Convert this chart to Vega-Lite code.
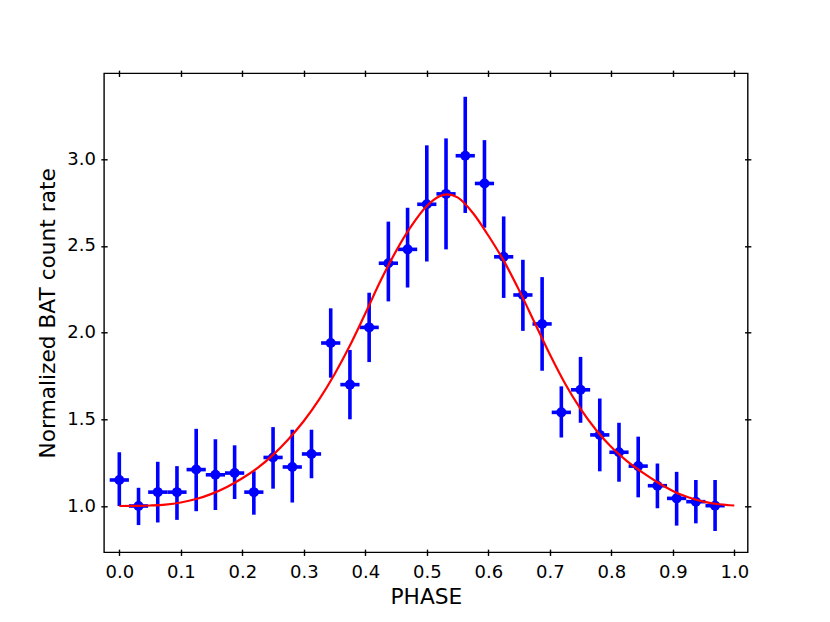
{
  "$schema": "https://vega.github.io/schema/vega-lite/v6.json",
  "width": 643.7,
  "height": 479,
  "autosize": {"type": "none"},
  "padding": {"left": 104, "top": 73.3, "right": 82.3, "bottom": 69.7},
  "background": "white",
  "config": {
    "font": "DejaVu Sans",
    "view": {"stroke": "black", "strokeWidth": 1.4},
    "axis": {
      "grid": false,
      "domain": false,
      "tickColor": "black",
      "tickWidth": 1.4,
      "tickSize": 6.3,
      "offset": -3.15,
      "labelColor": "black",
      "labelFont": "DejaVu Sans",
      "labelFontSize": 18,
      "titleFont": "DejaVu Sans",
      "titleFontSize": 21.7,
      "titleFontWeight": "normal",
      "titleColor": "black"
    }
  },
  "datasets": {
    "pts": [
      {"phase": 0, "rate": 1.15, "lo": 1.0, "hi": 1.31, "xlo": -0.015625, "xhi": 0.015625},
      {"phase": 0.03125, "rate": 1.0, "lo": 0.89, "hi": 1.105, "xlo": 0.015625, "xhi": 0.046875},
      {"phase": 0.0625, "rate": 1.08, "lo": 0.905, "hi": 1.255, "xlo": 0.046875, "xhi": 0.078125},
      {"phase": 0.09375, "rate": 1.08, "lo": 0.92, "hi": 1.23, "xlo": 0.078125, "xhi": 0.109375},
      {"phase": 0.125, "rate": 1.21, "lo": 0.97, "hi": 1.445, "xlo": 0.109375, "xhi": 0.140625},
      {"phase": 0.15625, "rate": 1.18, "lo": 0.977, "hi": 1.385, "xlo": 0.140625, "xhi": 0.171875},
      {"phase": 0.1875, "rate": 1.19, "lo": 1.04, "hi": 1.35, "xlo": 0.171875, "xhi": 0.203125},
      {"phase": 0.21875, "rate": 1.08, "lo": 0.95, "hi": 1.2, "xlo": 0.203125, "xhi": 0.234375},
      {"phase": 0.25, "rate": 1.28, "lo": 1.1, "hi": 1.455, "xlo": 0.234375, "xhi": 0.265625},
      {"phase": 0.28125, "rate": 1.225, "lo": 1.02, "hi": 1.44, "xlo": 0.265625, "xhi": 0.296875},
      {"phase": 0.3125, "rate": 1.3, "lo": 1.16, "hi": 1.44, "xlo": 0.296875, "xhi": 0.328125},
      {"phase": 0.34375, "rate": 1.94, "lo": 1.74, "hi": 2.14, "xlo": 0.328125, "xhi": 0.359375},
      {"phase": 0.375, "rate": 1.7, "lo": 1.5, "hi": 1.9, "xlo": 0.359375, "xhi": 0.390625},
      {"phase": 0.40625, "rate": 2.03, "lo": 1.83, "hi": 2.23, "xlo": 0.390625, "xhi": 0.421875},
      {"phase": 0.4375, "rate": 2.4, "lo": 2.18, "hi": 2.64, "xlo": 0.421875, "xhi": 0.453125},
      {"phase": 0.46875, "rate": 2.48, "lo": 2.26, "hi": 2.72, "xlo": 0.453125, "xhi": 0.484375},
      {"phase": 0.5, "rate": 2.74, "lo": 2.41, "hi": 3.08, "xlo": 0.484375, "xhi": 0.515625},
      {"phase": 0.53125, "rate": 2.8, "lo": 2.48, "hi": 3.12, "xlo": 0.515625, "xhi": 0.546875},
      {"phase": 0.5625, "rate": 3.02, "lo": 2.69, "hi": 3.36, "xlo": 0.546875, "xhi": 0.578125},
      {"phase": 0.59375, "rate": 2.86, "lo": 2.605, "hi": 3.11, "xlo": 0.578125, "xhi": 0.609375},
      {"phase": 0.625, "rate": 2.437, "lo": 2.2, "hi": 2.67, "xlo": 0.609375, "xhi": 0.640625},
      {"phase": 0.65625, "rate": 2.217, "lo": 2.01, "hi": 2.42, "xlo": 0.640625, "xhi": 0.671875},
      {"phase": 0.6875, "rate": 2.05, "lo": 1.78, "hi": 2.32, "xlo": 0.671875, "xhi": 0.703125},
      {"phase": 0.71875, "rate": 1.54, "lo": 1.395, "hi": 1.69, "xlo": 0.703125, "xhi": 0.734375},
      {"phase": 0.75, "rate": 1.67, "lo": 1.48, "hi": 1.86, "xlo": 0.734375, "xhi": 0.765625},
      {"phase": 0.78125, "rate": 1.41, "lo": 1.2, "hi": 1.62, "xlo": 0.765625, "xhi": 0.796875},
      {"phase": 0.8125, "rate": 1.31, "lo": 1.14, "hi": 1.48, "xlo": 0.796875, "xhi": 0.828125},
      {"phase": 0.84375, "rate": 1.23, "lo": 1.05, "hi": 1.4, "xlo": 0.828125, "xhi": 0.859375},
      {"phase": 0.875, "rate": 1.117, "lo": 0.987, "hi": 1.245, "xlo": 0.859375, "xhi": 0.890625},
      {"phase": 0.90625, "rate": 1.044, "lo": 0.887, "hi": 1.197, "xlo": 0.890625, "xhi": 0.921875},
      {"phase": 0.9375, "rate": 1.025, "lo": 0.9, "hi": 1.15, "xlo": 0.921875, "xhi": 0.953125},
      {"phase": 0.96875, "rate": 1.002, "lo": 0.856, "hi": 1.15, "xlo": 0.953125, "xhi": 0.984375}
    ],
    "curve": [
      {"phase": 0.0, "model": 1.0},
      {"phase": 0.025, "model": 1.001},
      {"phase": 0.05, "model": 1.003},
      {"phase": 0.075, "model": 1.008},
      {"phase": 0.1, "model": 1.02},
      {"phase": 0.125, "model": 1.04},
      {"phase": 0.15, "model": 1.07},
      {"phase": 0.175, "model": 1.11},
      {"phase": 0.2, "model": 1.16},
      {"phase": 0.225, "model": 1.22},
      {"phase": 0.25, "model": 1.295},
      {"phase": 0.275, "model": 1.385},
      {"phase": 0.3, "model": 1.49},
      {"phase": 0.325, "model": 1.615},
      {"phase": 0.35, "model": 1.76},
      {"phase": 0.375, "model": 1.925},
      {"phase": 0.4, "model": 2.11},
      {"phase": 0.425, "model": 2.3},
      {"phase": 0.45, "model": 2.47},
      {"phase": 0.475, "model": 2.615},
      {"phase": 0.5, "model": 2.73},
      {"phase": 0.52, "model": 2.785},
      {"phase": 0.533, "model": 2.797},
      {"phase": 0.55, "model": 2.78},
      {"phase": 0.575, "model": 2.69},
      {"phase": 0.6, "model": 2.56},
      {"phase": 0.625, "model": 2.415},
      {"phase": 0.65, "model": 2.245},
      {"phase": 0.675, "model": 2.06},
      {"phase": 0.7, "model": 1.875},
      {"phase": 0.725, "model": 1.705},
      {"phase": 0.75, "model": 1.56},
      {"phase": 0.775, "model": 1.44},
      {"phase": 0.8, "model": 1.34},
      {"phase": 0.825, "model": 1.26},
      {"phase": 0.85, "model": 1.195},
      {"phase": 0.875, "model": 1.137},
      {"phase": 0.9, "model": 1.087},
      {"phase": 0.925, "model": 1.05},
      {"phase": 0.95, "model": 1.025},
      {"phase": 0.975, "model": 1.01},
      {"phase": 1.0, "model": 1.003}
    ]
  },
  "layer": [
    {
      "data": {"name": "pts"},
      "mark": {"type": "rule", "color": "#0000ff", "strokeWidth": 3.6, "strokeCap": "butt"},
      "encoding": {
        "x": {
          "field": "phase", "type": "quantitative",
          "scale": {"domain": [-0.0249, 1.0218], "nice": false, "zero": false},
          "axis": {
            "orient": "bottom", "title": "PHASE",
            "values": [0, 0.1, 0.2, 0.3, 0.4, 0.5, 0.6, 0.7, 0.8, 0.9, 1.0],
            "format": ".1f", "labelPadding": 8.4,
            "titleBaseline": "alphabetic", "titleY": 54.2, "titleX": 321.85
          }
        },
        "y": {
          "field": "lo", "type": "quantitative",
          "scale": {"domain": [0.733, 3.4954], "nice": false, "zero": false},
          "axis": {
            "orient": "left", "title": "Normalized BAT count rate",
            "values": [1.0, 1.5, 2.0, 2.5, 3.0],
            "format": ".1f", "labelPadding": 5.5,
            "titleAngle": -90, "titleBaseline": "alphabetic",
            "titleX": -52.9, "titleY": 239.5, "titleAlign": "center"
          }
        },
        "y2": {"field": "hi"}
      }
    },
    {
      "data": {"name": "pts"},
      "mark": {"type": "rule", "color": "#0000ff", "strokeWidth": 3.6, "strokeCap": "butt"},
      "encoding": {
        "x": {
          "field": "xlo", "type": "quantitative",
          "scale": {"domain": [-0.0249, 1.0218], "nice": false, "zero": false},
          "axis": {
            "orient": "top", "title": null, "labels": false,
            "values": [0, 0.1, 0.2, 0.3, 0.4, 0.5, 0.6, 0.7, 0.8, 0.9, 1.0]
          }
        },
        "x2": {"field": "xhi"},
        "y": {
          "field": "rate", "type": "quantitative",
          "scale": {"domain": [0.733, 3.4954], "nice": false, "zero": false},
          "axis": {
            "orient": "right", "title": null, "labels": false,
            "values": [1.0, 1.5, 2.0, 2.5, 3.0]
          }
        }
      }
    },
    {
      "data": {"name": "pts"},
      "mark": {"type": "point", "shape": "circle", "filled": true, "color": "#0000ff", "size": 100, "opacity": 1},
      "encoding": {
        "x": {"field": "phase", "type": "quantitative", "scale": {"domain": [-0.0249, 1.0218], "nice": false, "zero": false}, "axis": null},
        "y": {"field": "rate", "type": "quantitative", "scale": {"domain": [0.733, 3.4954], "nice": false, "zero": false}, "axis": null}
      }
    },
    {
      "data": {"name": "curve"},
      "mark": {"type": "line", "color": "#ff0000", "strokeWidth": 2.2, "interpolate": "monotone"},
      "encoding": {
        "x": {"field": "phase", "type": "quantitative", "scale": {"domain": [-0.0249, 1.0218], "nice": false, "zero": false}, "axis": null},
        "y": {"field": "model", "type": "quantitative", "scale": {"domain": [0.733, 3.4954], "nice": false, "zero": false}, "axis": null}
      }
    }
  ],
  "resolve": {"axis": {"x": "independent", "y": "independent"}}
}
